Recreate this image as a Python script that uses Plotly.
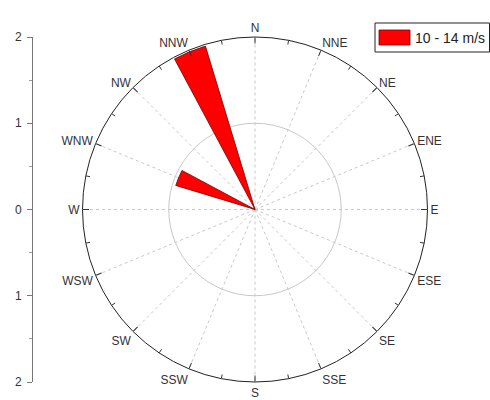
import plotly.graph_objects as go

# Wind directions (clockwise from north) and frequency for the 10 - 14 m/s class
directions = ["N", "NNE", "NE", "ENE", "E", "ESE", "SE", "SSE",
              "S", "SSW", "SW", "WSW", "W", "WNW", "NW", "NNW"]
angles = [i * 22.5 for i in range(16)]
freq = [0, 0, 0, 0, 0, 0, 0, 0, 0, 0, 0, 0, 0, 0.96, 0, 1.98]
series_name = "10 - 14 m/s"

# Left scale: values and the labels shown at them
scale_vals = [2, 1, 0, -1, -2]
scale_text = ["2", "1", "0", "1", "2"]

r_max = 2
font = dict(family="Liberation Sans, Arial, sans-serif", size=12, color="#333")

W, H = 490, 400
cx, cy, rad = 255, 209.5, 172.5      # rose centre and radius in pixels
lab_rad = 175                         # ring on which compass labels sit


def dom(r):
    return dict(x=[(cx - r) / W, (cx + r) / W], y=[1 - (cy + r) / H, 1 - (cy - r) / H])


fig = go.Figure()

fig.add_trace(go.Barpolar(
    r=freq, theta=angles, width=[11.25] * 16,
    marker=dict(color="#ff0000", line=dict(color="#7a0000", width=0.8)),
    name=series_name, showlegend=False,
))

# minor ticks on the outer ring, halfway between the compass points
minor_r, minor_t = [], []
for a in angles:
    minor_r += [r_max * 0.975, r_max, None]
    minor_t += [a + 11.25, a + 11.25, None]
fig.add_trace(go.Scatterpolar(
    r=minor_r, theta=minor_t, mode="lines",
    line=dict(color="#333", width=1), hoverinfo="skip", showlegend=False,
))

# empty trace that carries the outer label ring
fig.add_trace(go.Scatterpolar(r=[0], theta=[0], mode="markers", marker=dict(opacity=0),
                              subplot="polar2", hoverinfo="skip", showlegend=False))

# invisible trace so the cartesian scale on the left gets drawn
fig.add_trace(go.Scatter(x=[0], y=[0], mode="markers", marker=dict(opacity=0),
                         hoverinfo="skip", showlegend=False))

fig.update_layout(
    width=W, height=H,
    margin=dict(l=0, r=0, t=0, b=0, autoexpand=False),
    paper_bgcolor="white", plot_bgcolor="rgba(0,0,0,0)",
    font=font,
    polar=dict(
        domain=dom(rad),
        bgcolor="white",
        bargap=0,
        angularaxis=dict(
            direction="clockwise", rotation=90,
            tickmode="array", tickvals=angles, ticktext=directions,
            showticklabels=False,
            ticks="inside", ticklen=6, tickcolor="#333",
            showline=True, linecolor="#222", linewidth=1,
            showgrid=True, gridcolor="#c8c8c8", gridwidth=1, griddash="dot",
        ),
        radialaxis=dict(
            range=[0, r_max], tickvals=[1], showticklabels=False, ticks="",
            showline=False, showgrid=True, gridcolor="#c8c8c8", gridwidth=1,
        ),
    ),
    polar2=dict(
        domain=dom(lab_rad),
        bgcolor="rgba(0,0,0,0)",
        angularaxis=dict(
            direction="clockwise", rotation=90,
            tickmode="array", tickvals=angles, ticktext=directions,
            ticks="", showline=False, showgrid=False, tickfont=font,
        ),
        radialaxis=dict(visible=False, range=[0, 1]),
    ),
    xaxis=dict(domain=[0.3, 0.31], visible=False, range=[-1, 1], automargin=False),
    yaxis=dict(
        domain=[1 - (cy + rad) / H, 1 - (cy - rad) / H], range=[-2, 2],
        anchor="free", position=32 / W, side="left", automargin=False,
        tickmode="array", tickvals=scale_vals, ticktext=scale_text,
        ticks="outside", ticklen=5, tickcolor="#777", ticklabelstandoff=3,
        showline=True, linecolor="#777", linewidth=1,
        showgrid=False, zeroline=False, tickfont=font,
        minor=dict(dtick=0.5, ticks="outside", ticklen=3, tickcolor="#999", showgrid=False),
    ),
    shapes=[
        dict(type="rect", xref="paper", yref="paper",
             x0=375 / W, x1=489.5 / W, y0=1 - 52 / H, y1=1 - 23 / H,
             line=dict(color="#222", width=1), fillcolor="white"),
        dict(type="rect", xref="paper", yref="paper",
             x0=379 / W, x1=410 / W, y0=1 - 45 / H, y1=1 - 30 / H,
             line=dict(color="#7a0000", width=0.8), fillcolor="#ff0000"),
    ],
    annotations=[
        dict(text=series_name, xref="paper", yref="paper",
             x=413 / W, y=1 - 37.5 / H, xanchor="left", yanchor="middle",
             showarrow=False, font=dict(family=font["family"], size=14, color="#222")),
    ],
)

fig.write_html("out.html")
